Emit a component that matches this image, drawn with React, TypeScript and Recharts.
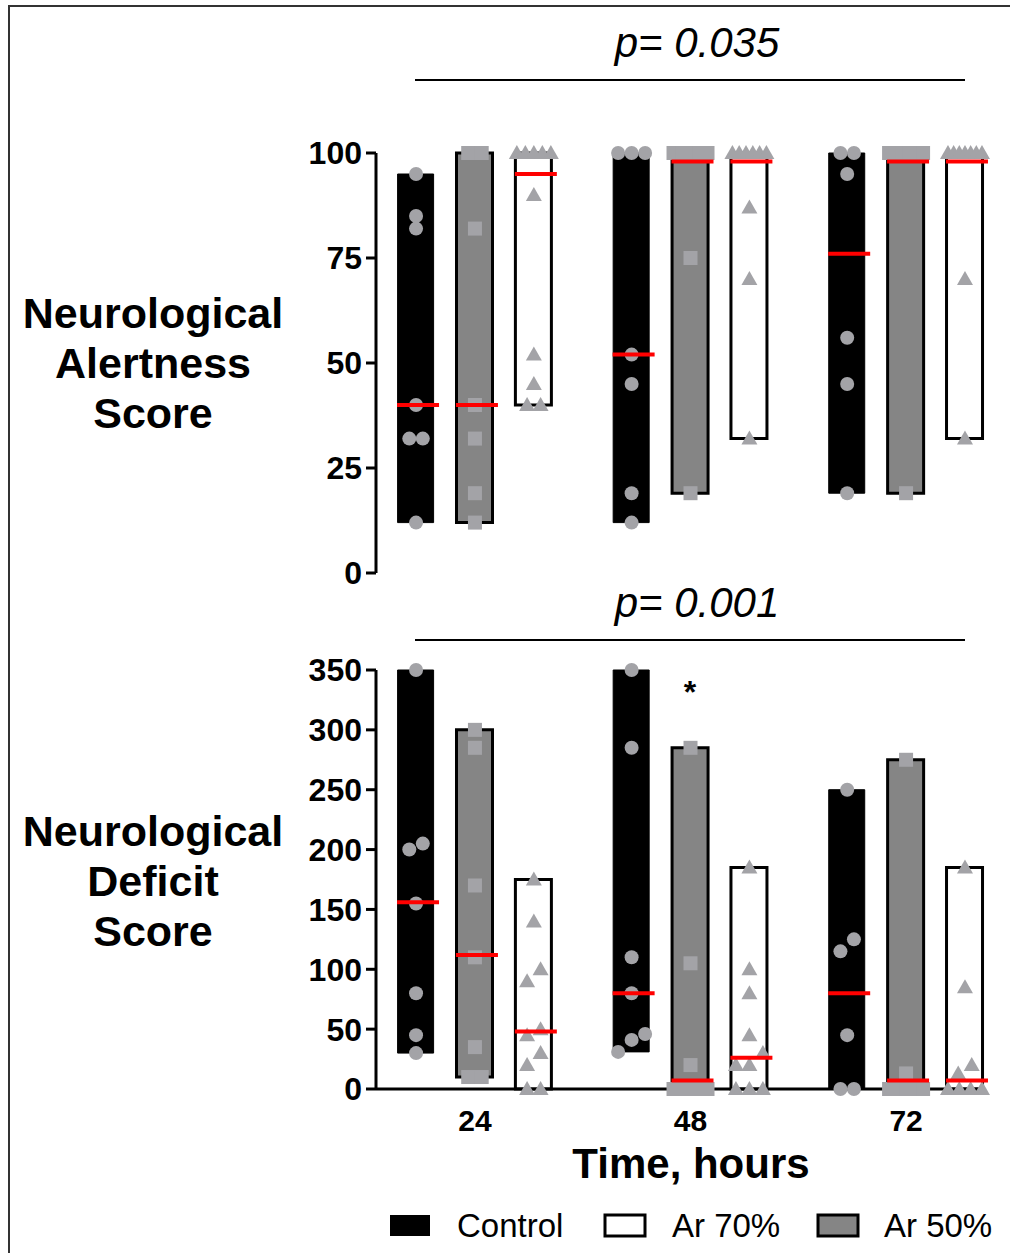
import React from 'react';
import { Bar, Cell, ComposedChart, Scatter, XAxis, YAxis } from 'recharts';

const GROUP_LABELS = ['24', '48', '72'];
const SERIES_NAMES = ['Control', 'Ar 50%', 'Ar 70%'];

// Neurological Alertness Score: one list of animals per time point (24, 48, 72 h)
const alertControl = [
  [95, 85, 82, 40, 32, 32, 12],
  [100, 100, 100, 52, 45, 19, 12],
  [100, 100, 95, 56, 45, 19],
];
const alertAr50 = [
  [100, 100, 82, 40, 32, 19, 12],
  [100, 100, 100, 100, 100, 75, 19],
  [100, 100, 100, 100, 100, 100, 19],
];
const alertAr70 = [
  [100, 100, 100, 100, 100, 90, 52, 45, 40, 40],
  [100, 100, 100, 100, 100, 100, 87, 70, 32],
  [100, 100, 100, 100, 100, 100, 100, 70, 32],
];
const alertMedianControl = [40, 52, 76];
const alertMedianAr50 = [40, 98, 98];
const alertMedianAr70 = [95, 98, 98];
const alertTicks = [0, 25, 50, 75, 100];

// Neurological Deficit Score
const deficitControl = [
  [350, 205, 200, 155, 80, 45, 30],
  [350, 285, 110, 80, 46, 41, 31],
  [250, 125, 115, 45, 0, 0],
];
const deficitAr50 = [
  [300, 285, 170, 110, 35, 10, 10],
  [285, 105, 20, 0, 0, 0, 0],
  [275, 13, 0, 0, 0, 0, 0],
];
const deficitAr70 = [
  [175, 140, 100, 90, 50, 45, 30, 20, 0, 0],
  [185, 100, 80, 45, 30, 20, 20, 0, 0, 0],
  [185, 85, 20, 13, 0, 0, 0, 0],
];
const deficitMedianControl = [156, 80, 80];
const deficitMedianAr50 = [112, 7, 7];
const deficitMedianAr70 = [48, 26, 7];
const deficitMarksAr50 = ['', '*', ''];
const deficitTicks = [0, 50, 100, 150, 200, 250, 300, 350];

const P_TOP = 'p= 0.035';
const P_BOTTOM = 'p= 0.001';

const FONT = '"Liberation Sans", Arial, Helvetica, sans-serif';
const BAR_FILL = ['#000000', '#858585', '#ffffff'];
const BAR_STROKE_WIDTH = [1, 3, 3];
const POINT_COLOR = '#a3a3a7';
const MEDIAN_COLOR = '#ff0000';
const GROUP_STEP = 3.66;
const X_DOMAIN: [number, number] = [-0.68, 9.66];
const CHART_W = 990;
const Y_AXIS_W = 368;

const xPos = (g: number, s: number) => g * GROUP_STEP + s;

// spread points that would overlap (GraphPad-like scatter)
function jitter(values: number[], pxPerUnit: number): number[] {
  const order = values.map((v, i) => i).sort((a, b) => values[a] - values[b]);
  const offsets = new Array(values.length).fill(0);
  let cluster: number[] = [];
  const flush = () => {
    const n = cluster.length;
    if (n > 1) {
      const step = Math.min(13.5, 34 / (n - 1));
      cluster.forEach((idx, i) => {
        offsets[idx] = (i - (n - 1) / 2) * step;
      });
    }
    cluster = [];
  };
  order.forEach((idx) => {
    const prev = cluster[cluster.length - 1];
    if (prev !== undefined && (values[idx] - values[prev]) * pxPerUnit >= 12.5) flush();
    cluster.push(idx);
  });
  flush();
  return offsets;
}

type PanelInput = {
  series: number[][][];
  medians: number[][];
  marks?: string[][];
  yMax: number;
  plotH: number;
};

function buildPanel({ series, medians, marks, yMax, plotH }: PanelInput) {
  const pxPerUnit = plotH / yMax;
  const rows: any[] = [];
  const points: any[][] = [[], [], []];
  const medianPts: any[] = [];
  GROUP_LABELS.forEach((_, g) => {
    series.forEach((groups, s) => {
      const vals = groups[g];
      const x = xPos(g, s);
      rows.push({
        x,
        s,
        range: [Math.min(...vals), Math.max(...vals)],
        mark: marks?.[s]?.[g] ?? '',
      });
      const dx = jitter(vals, pxPerUnit);
      vals.forEach((v, i) => points[s].push({ x, y: v, dx: dx[i] }));
      medianPts.push({ x, y: medians[s][g] });
    });
  });
  return { rows, points, medianPts };
}

const CircleMark = (p: any) => (
  <circle cx={p.cx + p.payload.dx} cy={p.cy} r={7} fill={POINT_COLOR} />
);
const SquareMark = (p: any) => (
  <rect x={p.cx + p.payload.dx - 7} y={p.cy - 7} width={14} height={14} fill={POINT_COLOR} />
);
const TriangleMark = (p: any) => {
  const x = p.cx + p.payload.dx;
  const y = p.cy;
  return <polygon points={`${x},${y - 8} ${x + 8},${y + 6} ${x - 8},${y + 6}`} fill={POINT_COLOR} />;
};
const MARKERS = [CircleMark, SquareMark, TriangleMark];

const MedianMark = (p: any) => (
  <line x1={p.cx - 19} x2={p.cx + 23} y1={p.cy} y2={p.cy} stroke={MEDIAN_COLOR} strokeWidth={4} />
);

type PanelProps = PanelInput & {
  top: number;
  height: number;
  margin: { top: number; right: number; bottom: number; left: number };
  ticks: number[];
  showX: boolean;
};

function Panel(props: PanelProps) {
  const { top, height, margin, ticks, showX, yMax } = props;
  const { rows, points, medianPts } = buildPanel(props);
  const axisStyle = { stroke: '#000', strokeWidth: 3 };
  return (
    <div style={{ position: 'absolute', left: 8, top }}>
      <ComposedChart width={CHART_W} height={height} data={rows} margin={margin}>
        <XAxis
          type="number"
          dataKey="x"
          domain={X_DOMAIN}
          hide={!showX}
          ticks={GROUP_LABELS.map((_, g) => xPos(g, 1))}
          tickFormatter={(v: number) => GROUP_LABELS[Math.round((v - 1) / GROUP_STEP)]}
          axisLine={axisStyle}
          tickLine={false}
          tickSize={0}
          tickMargin={21}
          height={60}
          tick={{ fill: '#000', fontSize: 30, fontWeight: 700, fontFamily: FONT }}
        />
        <YAxis
          type="number"
          domain={[0, yMax]}
          ticks={ticks}
          interval={0}
          width={Y_AXIS_W}
          axisLine={axisStyle}
          tickLine={axisStyle}
          tickSize={10}
          tickMargin={4}
          tick={{ fill: '#000', fontSize: 32, fontWeight: 700, fontFamily: FONT }}
        />
        <Bar
          dataKey="range"
          barSize={36}
          isAnimationActive={false}
          label={(lp: any) => {
            const mark = rows[lp.index]?.mark;
            if (!mark) return <g />;
            return (
              <text
                x={lp.x + lp.width / 2}
                y={lp.y - 45}
                textAnchor="middle"
                fontSize={32}
                fontWeight={700}
                fontFamily={FONT}
                fill="#000"
              >
                {mark}
              </text>
            );
          }}
        >
          {rows.map((r, i) => (
            <Cell key={i} fill={BAR_FILL[r.s]} stroke="#000" strokeWidth={BAR_STROKE_WIDTH[r.s]} />
          ))}
        </Bar>
        {points.map((pts, s) => (
          <Scatter
            key={SERIES_NAMES[s]}
            name={SERIES_NAMES[s]}
            data={pts}
            dataKey="y"
            shape={MARKERS[s]}
            isAnimationActive={false}
          />
        ))}
        <Scatter data={medianPts} dataKey="y" shape={MedianMark} isAnimationActive={false} />
      </ComposedChart>
    </div>
  );
}

const LEGEND_ITEMS = [
  { name: 'Control', s: 0, rectX: 390, textX: 457 },
  { name: 'Ar 70%', s: 2, rectX: 605, textX: 672 },
  { name: 'Ar 50%', s: 1, rectX: 818, textX: 884 },
];

function Overlay() {
  const title = { fontFamily: FONT, fontWeight: 700, fontSize: 43, fill: '#000' } as const;
  return (
    <svg
      width={1010}
      height={1253}
      style={{ position: 'absolute', left: 0, top: 0, pointerEvents: 'none' }}
    >
      <text x={697} y={57} textAnchor="middle" fontFamily={FONT} fontStyle="italic" fontSize={42}>
        {P_TOP}
      </text>
      <line x1={415} x2={965} y1={80} y2={80} stroke="#000" strokeWidth={2} />
      <text x={697} y={617} textAnchor="middle" fontFamily={FONT} fontStyle="italic" fontSize={42}>
        {P_BOTTOM}
      </text>
      <line x1={415} x2={965} y1={640} y2={640} stroke="#000" strokeWidth={2} />

      {['Neurological', 'Alertness', 'Score'].map((t, i) => (
        <text key={t} x={153} y={328 + i * 50} textAnchor="middle" {...title}>
          {t}
        </text>
      ))}
      {['Neurological', 'Deficit', 'Score'].map((t, i) => (
        <text key={t} x={153} y={846 + i * 50} textAnchor="middle" {...title}>
          {t}
        </text>
      ))}

      <text x={691} y={1178} textAnchor="middle" {...title} fontSize={42}>
        Time, hours
      </text>

      {LEGEND_ITEMS.map((it) => (
        <g key={it.name}>
          <rect
            x={it.rectX}
            y={1215}
            width={40}
            height={21}
            fill={BAR_FILL[it.s]}
            stroke="#000"
            strokeWidth={it.s === 0 ? 0 : 3}
          />
          <text x={it.textX} y={1237} fontFamily={FONT} fontSize={33} fill="#000">
            {it.name}
          </text>
        </g>
      ))}
    </svg>
  );
}

export default function App() {
  return (
    <div
      style={{
        position: 'absolute',
        left: 0,
        top: 0,
        width: 1010,
        height: 1253,
        overflow: 'hidden',
        background: '#fff',
      }}
    >
      <div
        style={{
          position: 'absolute',
          left: 8,
          top: 5,
          width: 1010,
          height: 1260,
          borderTop: '2px solid #333',
          borderLeft: '2px solid #333',
        }}
      />
      <Panel
        top={8}
        height={590}
        margin={{ top: 145, right: 13, bottom: 25, left: 0 }}
        series={[alertControl, alertAr50, alertAr70]}
        medians={[alertMedianControl, alertMedianAr50, alertMedianAr70]}
        yMax={100}
        plotH={420}
        ticks={alertTicks}
        showX={false}
      />
      <Panel
        top={608}
        height={560}
        margin={{ top: 62, right: 13, bottom: 19, left: 0 }}
        series={[deficitControl, deficitAr50, deficitAr70]}
        medians={[deficitMedianControl, deficitMedianAr50, deficitMedianAr70]}
        marks={[[], deficitMarksAr50, []]}
        yMax={350}
        plotH={419}
        ticks={deficitTicks}
        showX={true}
      />
      <Overlay />
    </div>
  );
}
